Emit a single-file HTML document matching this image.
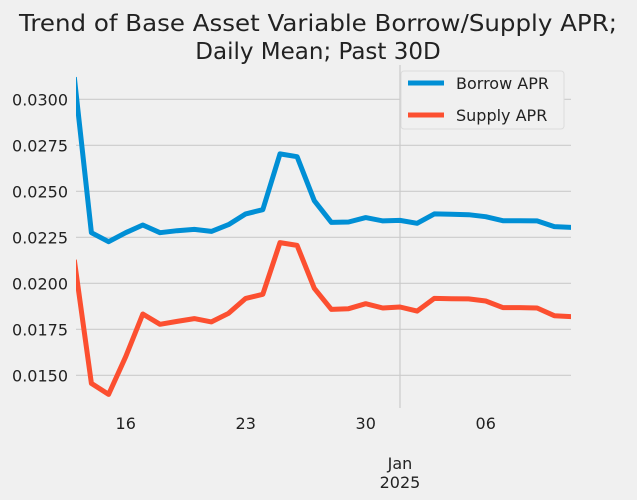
<!DOCTYPE html>
<html><head><meta charset="utf-8"><style>
html,body{margin:0;padding:0;background:#f0f0f0}
svg{display:block;font-family:"DejaVu Sans","Liberation Sans",sans-serif}
</style></head><body>
<svg id="chart" width="637" height="500" viewBox="0 0 637 500">
<rect width="637" height="500" fill="#f0f0f0"/>
<text x="318" y="31" font-size="23" text-anchor="middle" fill="#222" textLength="598" lengthAdjust="spacingAndGlyphs">Trend of Base Asset Variable Borrow/Supply APR;</text>
<text x="318" y="59" font-size="23" text-anchor="middle" fill="#222">Daily Mean; Past 30D</text>
<g id="grid"></g><g id="axes"></g><g id="series"></g>
<g>
<rect x="401" y="71" width="163" height="58" rx="3" fill="#f0f0f0" stroke="#dcdcdc"/>
<line x1="408" y1="83" x2="444" y2="83" stroke="#008fd5" stroke-width="5"/>
<text x="456" y="89" font-size="16" fill="#222">Borrow APR</text>
<line x1="408" y1="115" x2="444" y2="115" stroke="#fc4f30" stroke-width="5"/>
<text x="456" y="121" font-size="16" fill="#222">Supply APR</text>
</g>
</svg>
<script>
const dayIndex = [13,14,15,16,17,18,19,20,21,22,23,24,25,26,27,28,29,30,31,32,33,34,35,36,37,38,39,40,41,42];
const borrowAPR = [0.0312,0.02275,0.02226,0.02275,0.02317,0.02275,0.02286,0.02293,0.02282,0.02319,0.02377,0.02400,0.02703,0.02688,0.02449,0.02331,0.02333,0.02357,0.02339,0.02342,0.02326,0.02377,0.02375,0.02373,0.02362,0.02340,0.02340,0.02339,0.02308,0.02304];
const supplyAPR = [0.02127,0.01456,0.01396,0.01601,0.01833,0.01777,0.01793,0.01808,0.01790,0.01837,0.01918,0.01940,0.02221,0.02206,0.01973,0.01858,0.01862,0.01889,0.01866,0.01871,0.01849,0.01918,0.01916,0.01915,0.01904,0.01868,0.01868,0.01866,0.01824,0.01819];
const yTicks = [0.0150,0.0175,0.0200,0.0225,0.0250,0.0275,0.0300];
const xTickDays = [16,23,30,37];
const xTickLabels = ["16","23","30","06"];
const majorDay = 32;

const NS="http://www.w3.org/2000/svg";
const X0=76, X1=571, Y0=65, Y1=408;
function xs(d){return 125.7+(d-16)*120/7;}
function ys(v){return 99.3+(0.03-v)/0.0025*46;}
function mk(tag,attrs,parent){const e=document.createElementNS(NS,tag);for(const k in attrs)e.setAttribute(k,attrs[k]);parent.appendChild(e);return e;}
const grid=document.getElementById('grid'), axes=document.getElementById('axes'), series=document.getElementById('series');
yTicks.forEach(t=>{
  const l=mk('line',{x1:X0,x2:X1,y1:ys(t),y2:ys(t),stroke:'#cbcbcb','stroke-width':1.2},grid);
  
  
  const tx=mk('text',{x:68,y:ys(t)+6,'font-size':16,'text-anchor':'end',fill:'#222'},axes);
  tx.textContent=t.toFixed(4);
  
  
});
const vg=mk('line',{x1:xs(majorDay),x2:xs(majorDay),y1:Y0,y2:Y1,stroke:'#cbcbcb','stroke-width':1.2},grid);


xTickDays.forEach((d,i)=>{
  const tx=mk('text',{x:xs(d),y:429,'font-size':16,'text-anchor':'middle',fill:'#222'},axes);
  tx.textContent=xTickLabels[i];
  
  
});
const m1=mk('text',{x:xs(majorDay),y:469,'font-size':16,'text-anchor':'middle',fill:'#222'},axes);
m1.textContent='Jan';


const m2=mk('text',{x:xs(majorDay),y:488,'font-size':16,'text-anchor':'middle',fill:'#222'},axes);
m2.textContent='2025';


function line(vals,color,name){
  const pts=vals.map((v,i)=>xs(dayIndex[i]).toFixed(1)+','+ys(v).toFixed(1)).join(' ');
  const p=mk('polyline',{points:pts,fill:'none',stroke:color,'stroke-width':5,'stroke-linejoin':'round'},series);
  
  
}
const cp=mk('clipPath',{id:'clip'},document.getElementById('chart'));
mk('rect',{x:X0,y:Y0,width:X1-X0,height:Y1-Y0},cp);
series.setAttribute('clip-path','url(#clip)');
line(borrowAPR,'#008fd5','borrow-apr-line');
line(supplyAPR,'#fc4f30','supply-apr-line');
</script>
</body></html>
